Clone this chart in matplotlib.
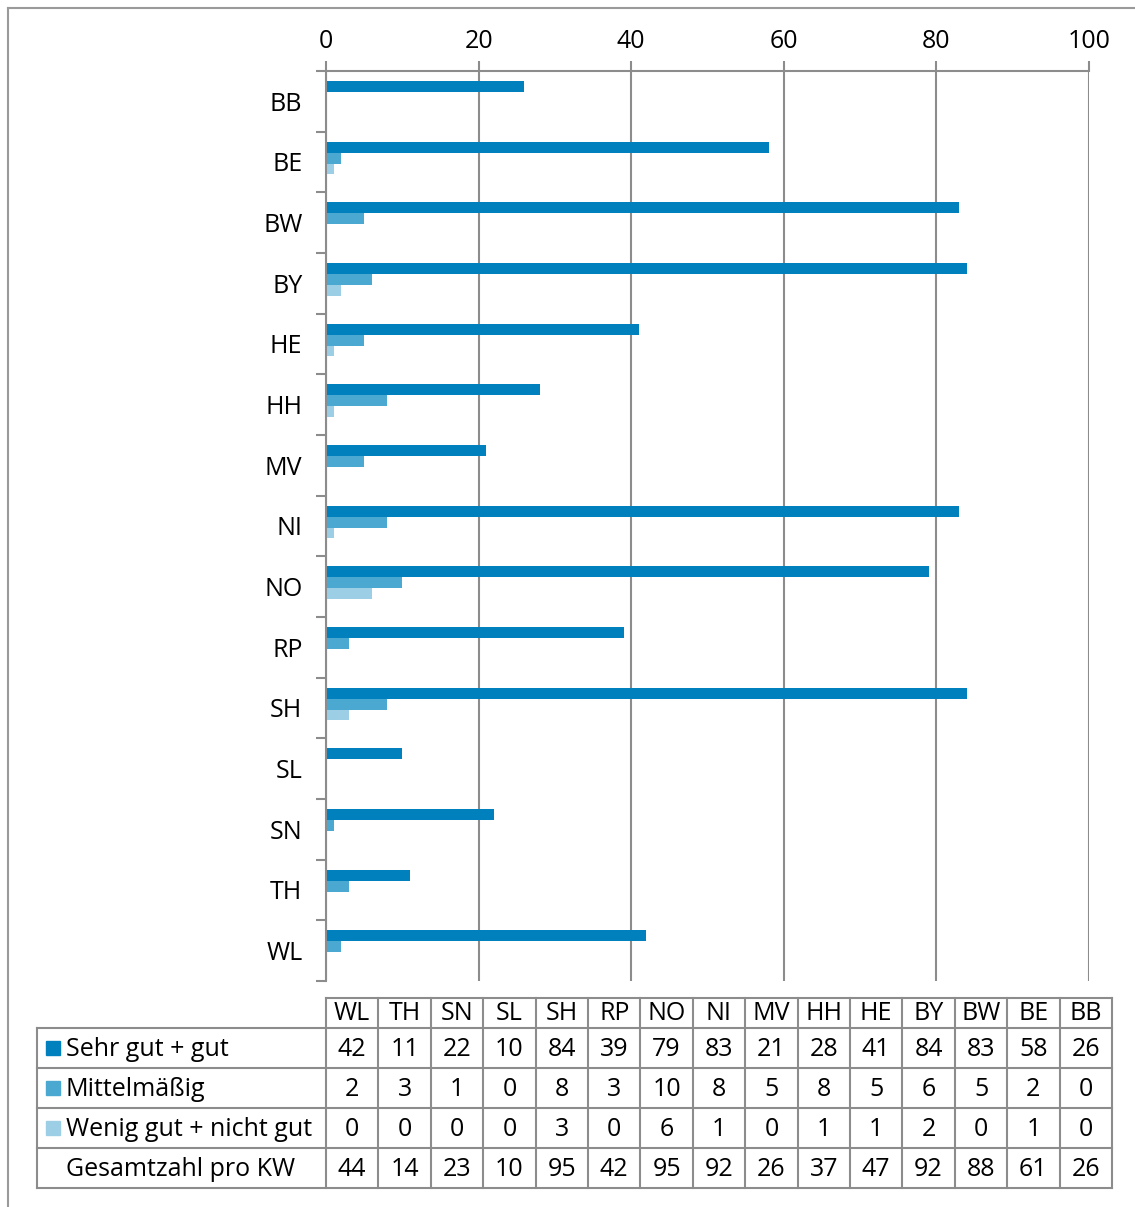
import numpy as np
import matplotlib.pyplot as plt

plt.rcParams['font.family'] = ['Open Sans', 'DejaVu Sans']

# data (table order, bottom to top in the chart)
states = ["WL", "TH", "SN", "SL", "SH", "RP", "NO", "NI", "MV", "HH", "HE", "BY", "BW", "BE", "BB"]
sehr_gut = [42, 11, 22, 10, 84, 39, 79, 83, 21, 28, 41, 84, 83, 58, 26]
mittel = [2, 3, 1, 0, 8, 3, 10, 8, 5, 8, 5, 6, 5, 2, 0]
wenig = [0, 0, 0, 0, 3, 0, 6, 1, 0, 1, 1, 2, 0, 1, 0]
gesamt = [44, 14, 23, 10, 95, 42, 95, 92, 26, 37, 47, 92, 88, 61, 26]
series_names = ["Sehr gut + gut", "Mittelmäßig", "Wenig gut + nicht gut"]
colors = ["#0080bc", "#4ba9d1", "#9ccfe6"]
grid_col = "#8c8c8c"
fs = 18

W, H = 1135, 1207
fig = plt.figure(figsize=(W / 100, H / 100), dpi=100)

# background overlay in pixel coords (frame + table)
bg = fig.add_axes([0, 0, 1, 1])
bg.set_xlim(0, W)
bg.set_ylim(H, 0)
bg.axis("off")
bg.plot([8, 8], [8, H], color="#9a9a9a", lw=1.5)
bg.plot([8, W], [8, 8], color="#9a9a9a", lw=1.5)

# main bar chart
x0, x1, y0, y1 = 326, 1089, 71, 981
ax = fig.add_axes([x0 / W, 1 - y1 / H, (x1 - x0) / W, (y1 - y0) / H])
n = len(states)
order = states[::-1]  # BB at top
ypos = np.arange(n)
bh = 0.18
offs = [-0.245, -0.065, 0.115]
vals = [sehr_gut[::-1], mittel[::-1], wenig[::-1]]
for k in range(3):
    ax.barh(ypos + offs[k], vals[k], height=bh, color=colors[k],
            linewidth=0, zorder=3)
ax.set_ylim(n - 0.5, -0.5)
ax.set_xlim(0, 100)
ax.set_xticks(range(0, 101, 20))
ax.xaxis.tick_top()
ax.tick_params(axis="x", length=7, width=1.5, color=grid_col, labelsize=fs, pad=5)
ax.set_yticks(ypos)
ax.set_yticklabels(order)
ax.set_yticks(np.arange(-0.5, n, 1), minor=True)
ax.tick_params(axis="y", which="major", length=0, labelsize=fs, pad=17)
ax.tick_params(axis="y", which="minor", length=7, width=1.5, color=grid_col)
ax.grid(axis="x", color=grid_col, lw=1.5, zorder=0)
for s in ["right", "bottom"]:
    ax.spines[s].set_visible(False)
for s in ["top", "left"]:
    ax.spines[s].set_color(grid_col)
    ax.spines[s].set_linewidth(1.5)
    ax.spines[s].set_zorder(4)

# data table
tx0, tlab, tx1 = 37, 326, 1112
cw = (tx1 - tlab) / n
ty = [998, 1028, 1068, 1108, 1148, 1188]
lc = "#8c8c8c"
rows = [sehr_gut, mittel, wenig, gesamt]
labels = series_names + ["Gesamtzahl pro KW"]
bg.plot([tlab, tx1], [ty[0], ty[0]], color=lc, lw=1.5)
for yy in ty[1:]:
    bg.plot([tx0, tx1], [yy, yy], color=lc, lw=1.5)
bg.plot([tx0, tx0], [ty[1], ty[-1]], color=lc, lw=1.5)
for j in range(n + 1):
    bg.plot([tlab + j * cw] * 2, [ty[0], ty[-1]], color=lc, lw=1.5)
for j, st in enumerate(states):
    cx = tlab + (j + 0.5) * cw
    bg.text(cx, (ty[0] + ty[1]) / 2 + 1, st, ha="center", va="center", fontsize=fs)
    for r in range(4):
        bg.text(cx, (ty[r + 1] + ty[r + 2]) / 2 + 1, str(rows[r][j]),
                ha="center", va="center", fontsize=fs)
for r in range(4):
    cy = (ty[r + 1] + ty[r + 2]) / 2
    if r < 3:
        bg.add_patch(plt.Rectangle((46, cy - 7), 14, 14, color=colors[r]))
    bg.text(66, cy + 1, labels[r], ha="left", va="center", fontsize=fs)

fig.savefig("out.png", dpi=100)
